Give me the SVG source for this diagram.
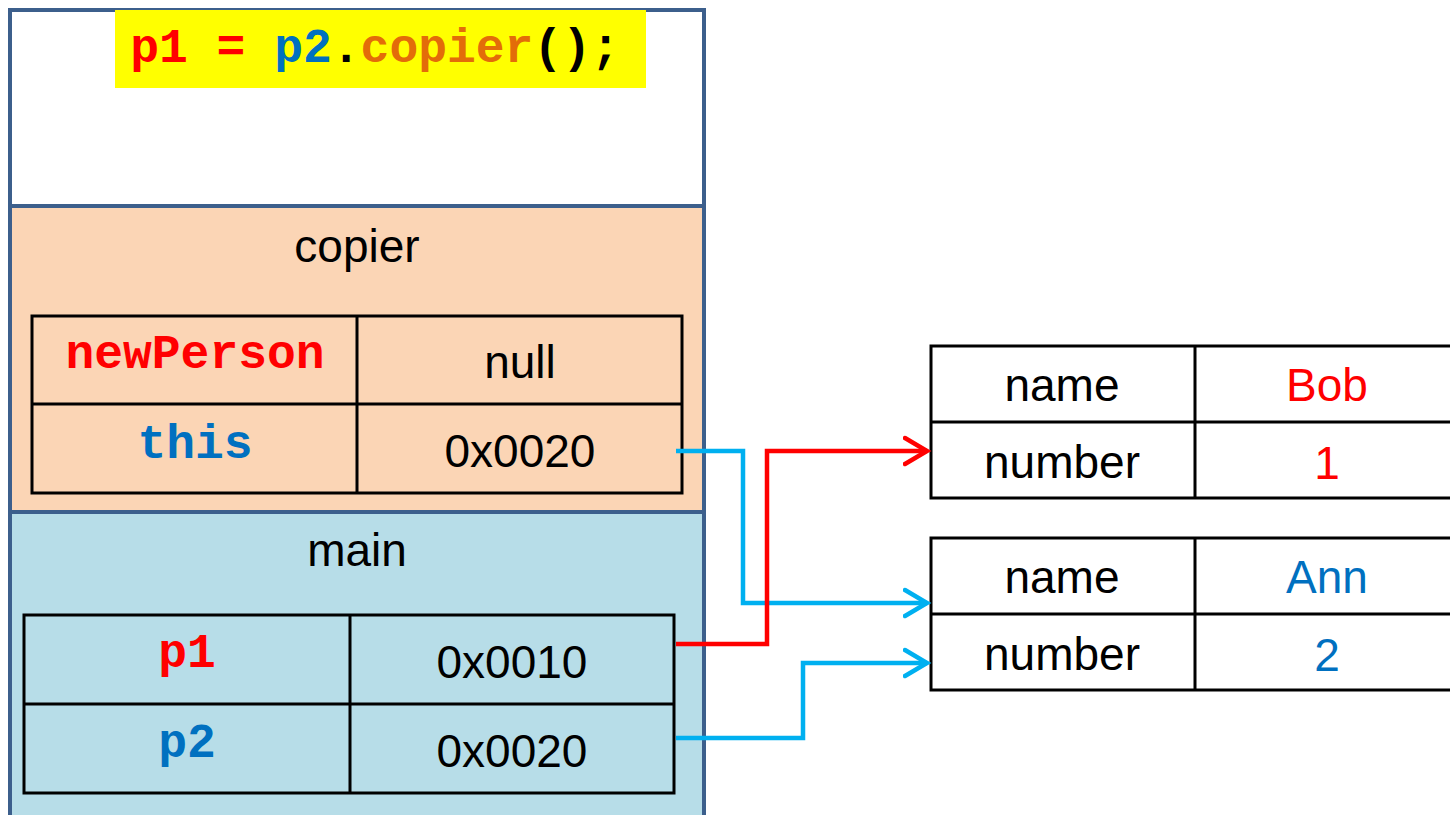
<svg xmlns="http://www.w3.org/2000/svg" width="1450" height="815" viewBox="0 0 1450 815">
<style>
.sans{font-family:"Liberation Sans",Arial,sans-serif;font-size:46px;text-anchor:middle;fill:#000}
.mono{font-family:"Liberation Mono","Courier New",monospace;font-size:48px;font-weight:bold;text-anchor:middle}
.cell{fill:none;stroke:#000;stroke-width:3}
.frame{stroke:#3C5F8C;stroke-width:4}
.red{fill:#FF0000}
.blue{fill:#0070C0}
.orange{fill:#E36C09}
.conn{fill:none;stroke-width:4.5;stroke-linejoin:miter}
</style>
<defs>
<marker id="arrR" markerUnits="userSpaceOnUse" markerWidth="30" markerHeight="34" refX="24" refY="15" orient="auto" viewBox="0 0 30 30">
<path d="M2,2 L24,15 L2,28" fill="none" stroke="#FF0000" stroke-width="4.5" stroke-linecap="round"/>
</marker>
<marker id="arrB" markerUnits="userSpaceOnUse" markerWidth="30" markerHeight="34" refX="24" refY="15" orient="auto" viewBox="0 0 30 30">
<path d="M2,2 L24,15 L2,28" fill="none" stroke="#00B0F0" stroke-width="4.5" stroke-linecap="round"/>
</marker>
</defs>
<rect width="1450" height="815" fill="#fff"/>
<g id="stack">
<rect x="10" y="10" width="694" height="196" fill="#fff"/>
<rect x="10" y="206" width="694" height="306" fill="#FBD5B5"/>
<rect x="10" y="512" width="694" height="310" fill="#B7DDE8"/>
<path class="frame" fill="none" d="M10,818 V10 H704 V818 M10,206 H704 M10,512 H704"/>
</g>
<g id="code">
<rect x="115" y="10" width="531" height="78" fill="#FFFF00"/>
<text x="375" y="62" class="mono" text-anchor="middle"><tspan class="red">p1 =</tspan><tspan class="blue"> p2</tspan><tspan fill="#000">.</tspan><tspan class="orange">copier</tspan><tspan fill="#000">();</tspan></text>
</g>
<g id="copier">
<text x="357" y="262" class="sans">copier</text>
<rect x="32" y="316" width="650" height="177" class="cell"/>
<path class="cell" d="M357,316 V493 M32,404 H682"/>
<text x="195" y="368" class="mono red">newPerson</text>
<text x="520" y="378" class="sans">null</text>
<text x="195" y="458" class="mono blue">this</text>
<text x="520" y="467" class="sans">0x0020</text>
</g>
<g id="main">
<text x="357" y="566" class="sans">main</text>
<rect x="24" y="615" width="650" height="178" class="cell"/>
<path class="cell" d="M350,615 V793 M24,704 H674"/>
<text x="187" y="667" class="mono red">p1</text>
<text x="512" y="678" class="sans">0x0010</text>
<text x="187" y="757" class="mono blue">p2</text>
<text x="512" y="767" class="sans">0x0020</text>
</g>
<g id="bob">
<rect x="931" y="346" width="530" height="152" class="cell"/>
<path class="cell" d="M1195,346 V498 M931,422 H1461"/>
<text x="1062" y="401" class="sans">name</text>
<text x="1327" y="401" class="sans red">Bob</text>
<text x="1062" y="478" class="sans">number</text>
<text x="1327" y="479" class="sans red">1</text>
</g>
<g id="ann">
<rect x="931" y="538" width="530" height="152" class="cell"/>
<path class="cell" d="M1195,538 V690 M931,614 H1461"/>
<text x="1062" y="593" class="sans">name</text>
<text x="1327" y="593" class="sans blue">Ann</text>
<text x="1062" y="670" class="sans">number</text>
<text x="1327" y="671" class="sans blue">2</text>
</g>
<g id="connectors">
<path class="conn" stroke="#00B0F0" d="M676,451 H743 V603 H927" marker-end="url(#arrB)"/>
<path class="conn" stroke="#FF0000" d="M676,644 H767 V451 H927" marker-end="url(#arrR)"/>
<path class="conn" stroke="#00B0F0" d="M676,738 H803 V663 H927" marker-end="url(#arrB)"/>
</g>
</svg>
